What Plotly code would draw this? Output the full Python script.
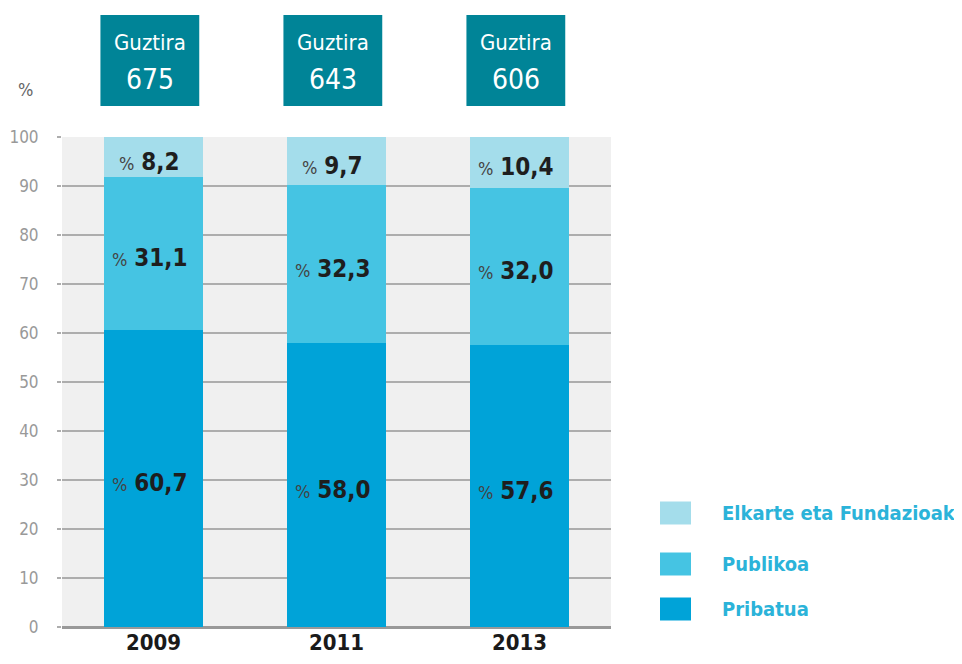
import plotly.graph_objects as go

years = ["2009", "2011", "2013"]
totals = [675, 643, 606]
series_names = ["Pribatua", "Publikoa", "Elkarte eta Fundazioak"]
pribatua = [60.7, 58.0, 57.6]
publikoa = [31.1, 32.3, 32.0]
elkarte = [8.2, 9.7, 10.4]
y_ticks = [0, 10, 20, 30, 40, 50, 60, 70, 80, 90, 100]

colors = {"Pribatua": "#00A3D8", "Publikoa": "#45C4E3", "Elkarte eta Fundazioak": "#A4DDEB"}
values = {"Pribatua": pribatua, "Publikoa": publikoa, "Elkarte eta Fundazioak": elkarte}

FONT = "Liberation Sans Narrow, Arial Narrow, DejaVu Sans Condensed, sans-serif"
OFF = 8  # page body margin
W, H = 962 - OFF, 664 - OFF
L, R, T, B = 62 - OFF, 611 - OFF, 137 - OFF, 627 - OFF  # plot area in figure px


def px(x):
    """screen x -> paper"""
    return (x - OFF - L) / (R - L)


def py(y):
    """screen y -> paper"""
    return (B - (y - OFF)) / (B - T)


fig = go.Figure()
xs = list(range(len(years)))
for name in series_names:
    fig.add_trace(go.Bar(
        x=xs, y=values[name], name=name, marker_color=colors[name],
        marker_line_width=0, width=0.54, showlegend=False, hoverinfo="skip"))

annotations = []
# segment value labels
for i in xs:
    base = 0.0
    for name in series_names:
        v = values[name][i]
        mid = base + v / 2
        base += v
        txt = ("<span style='font-size:18px;color:#444'>%</span> "
               "<b>" + f"{v:.1f}".replace(".", ",") + "</b>")
        annotations.append(dict(
            x=i, y=mid, xref="x", yref="y", text=txt, showarrow=False,
            font=dict(family=FONT, size=24, color="#1e1e1e"),
            xanchor="center", yanchor="middle", xshift=-4, yshift=-5))

shapes = []
# total boxes
for i, tot in enumerate(totals):
    shapes.append(dict(type="rect", xref="x", yref="paper",
                       x0=i - 0.29, x1=i + 0.25, y0=py(106), y1=py(15),
                       fillcolor="#008497", line_width=0, layer="above"))
    annotations.append(dict(x=i - 0.02, y=py(43), xref="x", yref="paper",
                            text="Guztira", showarrow=False,
                            font=dict(family=FONT, size=22, color="white"),
                            xanchor="center", yanchor="middle"))
    annotations.append(dict(x=i - 0.02, y=py(80), xref="x", yref="paper",
                            text=str(tot), showarrow=False,
                            font=dict(family=FONT, size=28, color="white"),
                            xanchor="center", yanchor="middle"))

# axis unit label
annotations.append(dict(x=px(25), y=py(90), xref="paper", yref="paper",
                        text="%", showarrow=False,
                        font=dict(family=FONT, size=18, color="#666"),
                        xanchor="center", yanchor="middle"))

# custom legend
legend_y = {"Elkarte eta Fundazioak": 513, "Publikoa": 564, "Pribatua": 609}
for name in ["Elkarte eta Fundazioak", "Publikoa", "Pribatua"]:
    cy = legend_y[name]
    shapes.append(dict(type="rect", xref="paper", yref="paper",
                       x0=px(660), x1=px(691), y0=py(cy + 11.5), y1=py(cy - 11.5),
                       fillcolor=colors[name], line_width=0))
    annotations.append(dict(x=px(720), y=py(cy), xref="paper", yref="paper",
                            text="<b>" + name + "</b>", showarrow=False,
                            font=dict(family=FONT, size=20, color="#2BB3D9"),
                            xanchor="left", yanchor="middle"))

fig.update_layout(
    barmode="stack",
    width=W, height=H,
    margin=dict(l=L, r=W - R, t=T, b=H - B, pad=0, autoexpand=False),
    paper_bgcolor="white", plot_bgcolor="#F0F0F0",
    font=dict(family=FONT),
    xaxis=dict(tickmode="array", tickvals=xs, ticktext=["<b>%s</b>" % y for y in years],
               range=[-0.5, 2.5], showgrid=False, zeroline=False, showline=False,
               automargin=False,
               ticks="", tickfont=dict(family=FONT, size=22, color="#1a1a1a")),
    yaxis=dict(range=[0, 100], tickvals=y_ticks, showgrid=True, gridcolor="#ADADAD",
               gridwidth=2, zeroline=True, zerolinecolor="#999999", zerolinewidth=3,
               automargin=False,
               ticks="outside", ticklen=4, tickwidth=2, tickcolor="#ADADAD",
               ticklabelstandoff=15,
               tickfont=dict(family=FONT, size=17, color="#999999")),
    shapes=shapes, annotations=annotations,
    showlegend=False,
)

fig.write_html("out.html")
